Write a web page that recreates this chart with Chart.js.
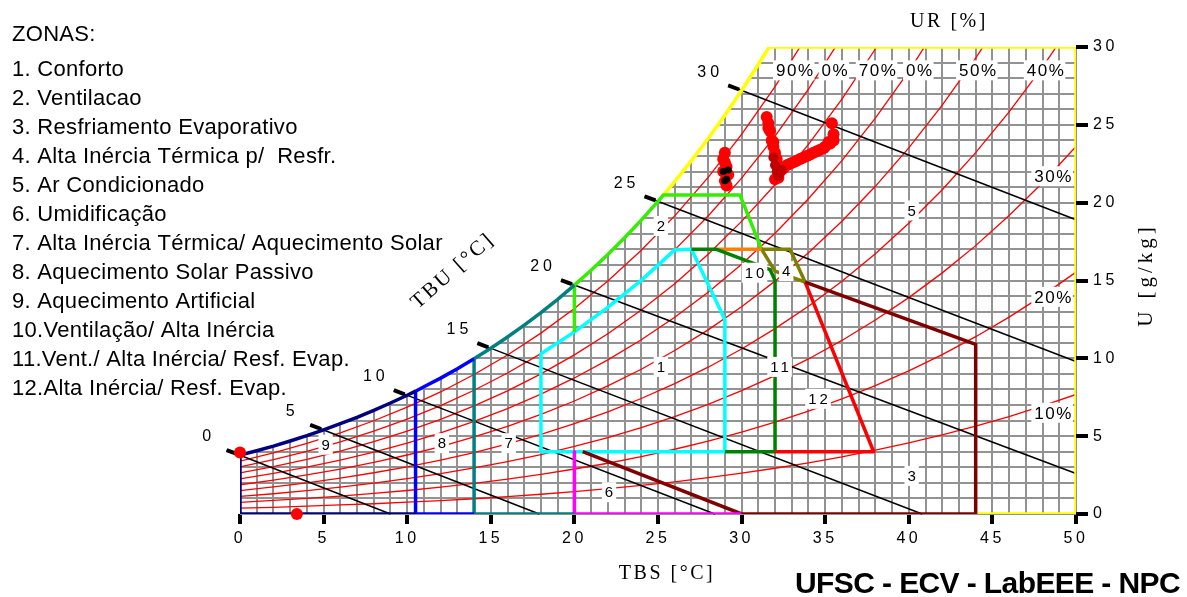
<!DOCTYPE html>
<html lang="pt">
<head>
<meta charset="UTF-8">
<title>Carta Bioclimática</title>
<script src="https://cdn.jsdelivr.net/npm/chart.js"></script>
<style>
  body { margin: 0; background: #fff; }
  canvas { display: block; }
</style>
</head>
<body>
<canvas id="carta" width="1187" height="597"></canvas>
<script>
// curva de saturação (TBS em °C, U em g/kg)
const satT = [0,1,2,3,4,5,6,7,8,9,10,11,12,13,14,15,16,17,18,19,20,21,22,23,24,25,26,27,28,29,30,31,32];
const satW = [3.78,4.06,4.36,4.69,5.03,5.40,5.80,6.21,6.66,7.13,7.63,8.17,8.73,9.33,9.97,10.65,11.37,12.13,12.94,13.79,14.70,15.66,16.67,17.75,18.88,20.08,21.35,22.70,24.12,25.62,27.21,28.88,30.65];

// curvas de umidade relativa, lidas a cada 2 °C
const urT = [0,2,4,6,8,10,12,14,16,18,20,22,24,26,28,30,32,34,36,38,40,42,44,46,48,50];
const ur10 = [0.38,0.43,0.50,0.58,0.66,0.76,0.86,0.98,1.12,1.27,1.44,1.63,1.84,2.07,2.33,2.62,2.94,3.29,3.67,4.10,4.57,5.08,5.64,6.26,6.94,7.68];
const ur20 = [0.75,0.87,1.00,1.15,1.32,1.51,1.73,1.97,2.24,2.54,2.89,3.26,3.69,4.16,4.68,5.26,5.90,6.61,7.39,8.25,9.20,10.24,11.39,12.65,14.03,15.54];
const ur30 = [1.13,1.30,1.50,1.73,1.98,2.27,2.59,2.96,3.37,3.82,4.34,4.91,5.55,6.26,7.04,7.92,8.89,9.96,11.15,12.46,13.90,15.49,17.24,19.17,21.28,23.61];
const ur40 = [1.50,1.74,2.00,2.31,2.65,3.03,3.46,3.95,4.50,5.11,5.80,6.56,7.42,8.37,9.43,10.60,11.91,13.35,14.95,16.72,18.68,20.83,23.21,25.83,28.71,31.89];
const ur50 = [1.88,2.18,2.51,2.88,3.31,3.79,4.33,4.95,5.63,6.40,7.26,8.23,9.30,10.50,11.83,13.31,14.96,16.78,18.81,21.05,23.52,26.26,29.28,32.62];
const ur60 = [2.26,2.61,3.01,3.46,3.98,4.56,5.21,5.95,6.77,7.70,8.74,9.90,11.19,12.64,14.25,16.04,18.04,20.25,22.70,25.43,28.44,31.78];
const ur70 = [2.64,3.05,3.51,4.04,4.65,5.32,6.08,6.95,7.91,9.00,10.22,11.58,13.10,14.79,16.69,18.80,21.15,23.75,26.65,29.87,33.44];
const ur80 = [3.02,3.49,4.02,4.63,5.32,6.09,6.96,7.95,9.06,10.30,11.70,13.27,15.01,16.97,19.14,21.58,24.28,27.29,30.65];
const ur90 = [3.39,3.93,4.53,5.21,5.99,6.86,7.84,8.96,10.21,11.62,13.20,14.97,16.94,19.15,21.62,24.38,27.45,30.87];
const urCurvas = [ur10, ur20, ur30, ur40, ur50, ur60, ur70, ur80, ur90];

const urRotulos = ['90%','0%','70%','0%','50%','40%','30%','20%','10%'];
const urRotT = [33.15,35.55,38.1,40.6,44.1,48.15,48.6,48.6,48.6];
const urRotW = [28.5,28.5,28.5,28.5,28.5,28.5,21.7,13.95,6.5];

// linhas de temperatura de bulbo úmido
const tbuRotulos = [0,5,10,15,20,25,30];
const tbuSatW = [3.78,5.40,7.63,10.65,14.70,20.08,27.21];
const tbuFimT = [9.0,17.9,28.4,40.8,50,50,50];
const tbuFimW = [0,0,0,0,2.6,9.8,18.9];

// contornos das zonas [TBS, U]
const zona9 = [[10.5,0],[0,0],[0,3.78],[1,4.06],[2,4.36],[3,4.69],[4,5.03],[5,5.40],[6,5.80],[7,6.21],[8,6.66],[9,7.13],[10,7.63],[10.5,7.89]];
const zona8 = [[14,0],[10.5,0],[10.5,7.89],[11,8.17],[12,8.73],[13,9.33],[14,9.97]];
const zona7 = [[20,0],[14,0],[14,9.97],[15,10.65],[16,11.37],[17,12.13],[18,12.94],[19,13.79],[20,14.70]];
const zona6 = [[20,4],[20,0],[30,0]];
const zona2 = [[20,11.70],[20,14.70],[21,15.66],[22,16.67],[23,17.75],[24,18.88],[25,20.08],[25.33,20.5],[29.9,20.5],[31.2,17.0]];
const zonaLimite = [[25.33,20.5],[26,21.35],[27,22.70],[28,24.12],[29,25.62],[30,27.21],[31,28.88],[31.65,30],[50,30],[50,0],[44,0]];
const zona1 = [[18,4],[29,4],[29,12.5],[27,17],[26,16.97],[24,15.01],[22,13.27],[20,11.70],[18,10.30],[18,4]];
const zona11 = [[29,4],[32,4],[32,15.0],[31.7,15.7],[28.5,17],[27,17]];
const zona10 = [[28.5,17],[31.2,17]];
const zona4 = [[31.2,17],[32.9,17],[33.8,14.9],[32.0,15.6],[31.2,17]];
const zona3 = [[20.5,4],[30,0],[44,0],[44,10.9],[33.8,14.9]];
const zona12 = [[33.8,14.9],[37.9,4],[32,4]];

const zonaRotulos = ['1','2','3','4','5','6','7','8','9','10','11','12'];
const zonaRotT = [25.2,25.2,40.2,32.7,40.2,22.1,16.1,12.1,5.15,30.8,32.3,34.6];
const zonaRotW = [9.45,18.5,2.45,15.6,19.5,1.4,4.55,4.55,4.45,15.5,9.45,7.4];

// medições horárias
const medT = [29.0,28.9,29.0,29.1,28.9,29.2,29.0,29.1, 31.5,31.6,31.6,31.7,31.8,31.9,31.9,32.0,32.1,32.1,32.2,32.3,32.2,32.0, 32.5,32.7,32.9,33.1,33.3,33.5,33.7,33.9,34.1,34.3,34.5,34.7,34.9,35.0,35.2,35.3,35.5,35.5,35.4, 0.0,3.4];
const medW = [23.2,22.8,22.6,22.3,22.0,21.8,21.4,21.1, 25.5,25.1,24.8,24.6,24.0,23.9,23.6,23.2,22.8,22.5,22.3,22.0,21.6,21.5, 22.2,22.4,22.5,22.6,22.7,22.8,22.9,23.0,23.1,23.2,23.3,23.4,23.5,23.6,23.9,23.8,24.0,24.4,25.1, 3.95,0.0];
const medEscT = [31.9,32.0,32.1,32.2,32.4];
const medEscW = [22.9,22.4,22.0,21.7,22.1];
const pretoT = [28.9,29.2,29.1,29.0];
const pretoW = [22.0,22.1,21.5,21.4];

const zonas = [
  { pts: zona9, cor: '#000080' },
  { pts: zona8, cor: '#0000ff' },
  { pts: zona7, cor: '#008080' },
  { pts: zona6, cor: '#ff00ff' },
  { pts: zona3, cor: '#800000' },
  { pts: zona12, cor: '#ff0000' },
  { pts: zona11, cor: '#008000' },
  { pts: zona10, cor: '#ff8000' },
  { pts: zona4, cor: '#808000' },
  { pts: zona2, cor: '#33ee00' },
  { pts: zonaLimite, cor: '#ffff00' },
  { pts: zona1, cor: '#00ffff' }
];

const sans = "'Liberation Sans', Arial, sans-serif";
const serif = "'Liberation Serif', 'Times New Roman', serif";

const datasets = [];

// branco acima da curva de saturação (esconde a grade)
datasets.push({
  data: satT.map((t, i) => ({ x: t, y: satW[i] })),
  borderWidth: 0, pointRadius: 0, fill: 'end', backgroundColor: '#ffffff', order: 100
});

urCurvas.forEach(c => {
  datasets.push({
    data: c.map((w, i) => ({ x: urT[i], y: w })),
    borderColor: '#ff0000', borderWidth: 1.3, pointRadius: 0, fill: false, order: 60
  });
});

tbuRotulos.forEach((t, i) => {
  datasets.push({
    data: [{ x: t - 0.8, y: tbuSatW[i] + 0.33 }, { x: tbuFimT[i], y: tbuFimW[i] }],
    borderColor: '#000000', borderWidth: 1.5, pointRadius: 0, fill: false, order: 50, clip: false
  });
  datasets.push({
    data: [{ x: t - 0.8, y: tbuSatW[i] + 0.33 }, { x: t - 0.15, y: tbuSatW[i] + 0.06 }],
    borderColor: '#000000', borderWidth: 4, pointRadius: 0, fill: false, order: 50, clip: false
  });
});

zonas.forEach(z => {
  datasets.push({
    data: z.pts.map(p => ({ x: p[0], y: p[1] })),
    borderColor: z.cor, borderWidth: 3.5, pointRadius: 0, fill: false, order: 20,
    borderJoinStyle: 'round'
  });
});

datasets.push({
  data: medT.map((t, i) => ({ x: t, y: medW[i] })),
  showLine: false, pointRadius: 6, pointBackgroundColor: '#ff0000', pointBorderWidth: 0, order: 5, clip: false
});
datasets.push({
  data: medEscT.map((t, i) => ({ x: t, y: medEscW[i] })),
  showLine: false, pointRadius: 5, pointBackgroundColor: '#c00000', pointBorderWidth: 0, order: 4
});
datasets.push({
  data: pretoT.map((t, i) => ({ x: t, y: pretoW[i] })),
  showLine: false, pointRadius: 3.5, pointBackgroundColor: '#000000', pointBorderWidth: 0, order: 3
});

function caixaTexto(ctx, txt, px, py, fonte, esp, fundo) {
  ctx.font = fonte;
  ctx.letterSpacing = esp;
  const w = ctx.measureText(txt).width;
  if (fundo) {
    ctx.fillStyle = '#ffffff';
    ctx.fillRect(px - w / 2 - 2, py - 10, w + 3, 20);
  }
  ctx.fillStyle = '#000000';
  ctx.textAlign = 'center';
  ctx.textBaseline = 'middle';
  ctx.fillText(txt, px + 1, py + 1);
}

const textos = {
  id: 'textos',
  beforeUpdate(chart) {
    chart.ctx.letterSpacing = '3.5px';
  },
  afterDatasetsDraw(chart) {
    const { ctx, scales: { x, y } } = chart;
    ctx.save();
    urRotulos.forEach((r, i) => {
      caixaTexto(ctx, r, x.getPixelForValue(urRotT[i]), y.getPixelForValue(urRotW[i]), '17px ' + sans, '1.5px', true);
    });
    zonaRotulos.forEach((r, i) => {
      caixaTexto(ctx, r, x.getPixelForValue(zonaRotT[i]), y.getPixelForValue(zonaRotW[i]), '15px ' + sans, '3px', true);
    });
    tbuRotulos.forEach((t, i) => {
      const px = x.getPixelForValue(t - 0.8) - 19;
      const py = y.getPixelForValue(tbuSatW[i] + 0.33) - 14;
      caixaTexto(ctx, String(t), px, py, '16px ' + sans, '4px', false);
    });
    ctx.restore();
  },
  afterDraw(chart) {
    const ctx = chart.ctx;
    ctx.save();
    ctx.fillStyle = '#000';
    ctx.textAlign = 'left';
    ctx.textBaseline = 'alphabetic';
    ctx.font = '22px ' + sans;
    ctx.letterSpacing = '0.3px';
    ctx.fillText('ZONAS:', 12, 41);
    const itens = ['1. Conforto', '2. Ventilacao', '3. Resfriamento Evaporativo',
      '4. Alta Inércia Térmica p/  Resfr.', '5. Ar Condicionado', '6. Umidificação',
      '7. Alta Inércia Térmica/ Aquecimento Solar', '8. Aquecimento Solar Passivo',
      '9. Aquecimento Artificial', '10.Ventilação/ Alta Inércia',
      '11.Vent./ Alta Inércia/ Resf. Evap.', '12.Alta Inércia/ Resf. Evap.'];
    itens.forEach((t, i) => ctx.fillText(t, 12, 76 + i * 29));

    ctx.font = '20px ' + serif;
    ctx.letterSpacing = '2.5px';
    ctx.textAlign = 'center';
    ctx.fillText('UR [%]', 949, 27);
    ctx.fillText('TBS [°C]', 667, 579);

    ctx.save();
    ctx.translate(1145, 275);
    ctx.rotate(-Math.PI / 2);
    ctx.letterSpacing = '4px';
    ctx.font = '21px ' + serif;
    ctx.fillText('U [g/kg]', 0, 7);
    ctx.restore();

    ctx.save();
    ctx.translate(452, 270);
    ctx.rotate(-0.72);
    ctx.font = '21px ' + serif;
    ctx.fillText('TBU [°C]', 0, 7);
    ctx.restore();

    ctx.font = 'bold 30px ' + sans;
    ctx.letterSpacing = '-0.6px';
    ctx.textAlign = 'left';
    ctx.fillText('UFSC - ECV - LabEEE - NPC', 795, 593, 386);
    ctx.restore();
  }
};

const corGrade = (c, borda) => (c.tick && c.tick.value === borda) ? 'rgba(0,0,0,0)' : '#929292';

new Chart(document.getElementById('carta'), {
  type: 'line',
  data: { datasets },
  options: {
    responsive: false,
    animation: false,
    devicePixelRatio: 1,
    layout: { padding: { left: 240, top: 47, right: 0, bottom: 0 } },
    plugins: { legend: { display: false }, tooltip: { enabled: false } },
    elements: { line: { tension: 0 } },
    scales: {
      x: {
        type: 'linear', min: 0, max: 50, position: 'bottom',
        afterFit: s => { s.height = 83; },
        border: { display: false },
        grid: {
          color: c => corGrade(c, 0), lineWidth: 2, tickLength: 10,
          tickColor: c => (c.tick && c.tick.value % 5 === 0) ? '#000' : 'rgba(0,0,0,0)',
          tickWidth: 4
        },
        ticks: {
          stepSize: 1, autoSkip: false, maxRotation: 0, padding: 5, color: '#000',
          font: { family: sans, size: 16 },
          callback: v => v % 5 === 0 ? String(v) : ''
        }
      },
      y: {
        type: 'linear', min: 0, max: 30, position: 'right',
        afterFit: s => { s.width = 111; },
        border: { display: false },
        grid: {
          color: c => corGrade(c, 30), lineWidth: 2, tickLength: 12,
          tickColor: c => (c.tick && c.tick.value % 5 === 0) ? '#000' : 'rgba(0,0,0,0)',
          tickWidth: 4
        },
        ticks: {
          stepSize: 1, autoSkip: false, padding: 5, color: '#000',
          font: { family: sans, size: 16 },
          callback: v => v % 5 === 0 ? String(v) : ''
        }
      }
    }
  },
  plugins: [textos]
});
</script>
</body>
</html>
